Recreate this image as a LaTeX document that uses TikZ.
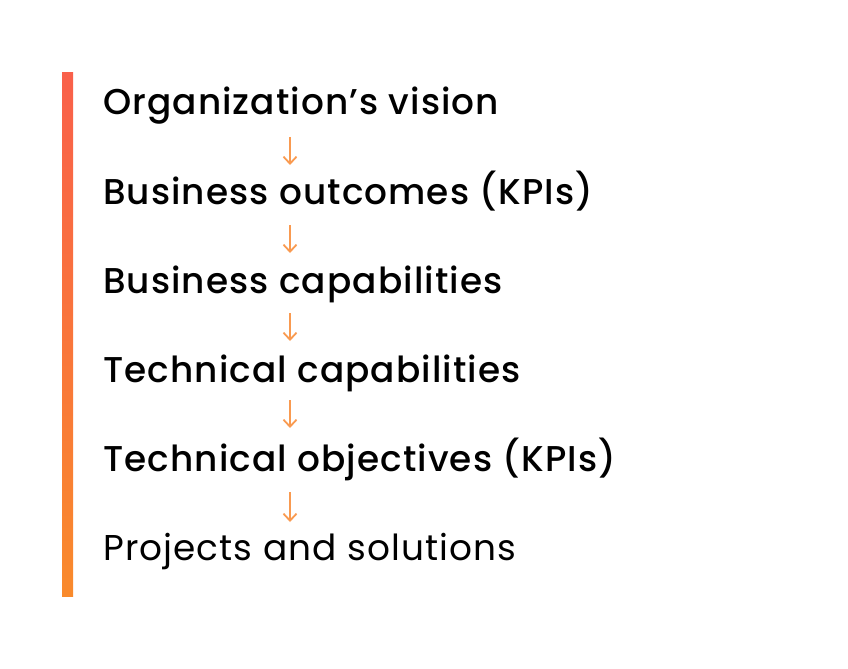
\documentclass[tikz,border=0pt]{standalone}
\usepackage{fontspec}
\IfFontExistsTF{Poppins Medium}{%
  \setmainfont{Poppins}[LetterSpace=3,BoldFont={Poppins Medium}]%
}{%
  \setmainfont{Poppins}[LetterSpace=3]%
}
\usetikzlibrary{arrows.meta}
\definecolor{bartop}{HTML}{F9604A}
\definecolor{barbot}{HTML}{F98A2C}
\definecolor{arrcol}{HTML}{F99A50}
\tikzset{
  lbl/.style={anchor=base west, inner sep=0pt, font=\fontsize{36}{40}\selectfont},
  boldlbl/.style={lbl, font=\fontsize{36}{40}\selectfont\bfseries},
  arr/.style={draw=arrcol, line width=1.8bp, -{Straight Barb[length=7bp,width=13bp,line width=1.8bp]}},
}
\begin{document}
\begin{tikzpicture}[x=1bp,y=-1bp]
\useasboundingbox (0,0) rectangle (848,669);
\shade[top color=bartop, bottom color=barbot] (62,73) rectangle (73,596);
\node[boldlbl] (l1) at (103,115) {Organization’s vision};
\node[boldlbl] (l2) at (103,204) {Business outcomes (KPIs)};
\node[boldlbl] (l3) at (103,293) {Business capabilities};
\node[boldlbl] (l4) at (103,382) {Technical capabilities};
\node[boldlbl] (l5) at (103,471) {Technical objectives (KPIs)};
\node[lbl] (l6) at (103,560) {Projects and solutions};
\coordinate (a1s) at (290,137); \coordinate (a1e) at (290,165);
\coordinate (a2s) at (290,225); \coordinate (a2e) at (290,253);
\coordinate (a3s) at (290,313); \coordinate (a3e) at (290,341);
\coordinate (a4s) at (290,400); \coordinate (a4e) at (290,428);
\coordinate (a5s) at (290,492); \coordinate (a5e) at (290,522);
\draw[arr] (a1s) -- (a1e);
\draw[arr] (a2s) -- (a2e);
\draw[arr] (a3s) -- (a3e);
\draw[arr] (a4s) -- (a4e);
\draw[arr] (a5s) -- (a5e);
\end{tikzpicture}
\end{document}
